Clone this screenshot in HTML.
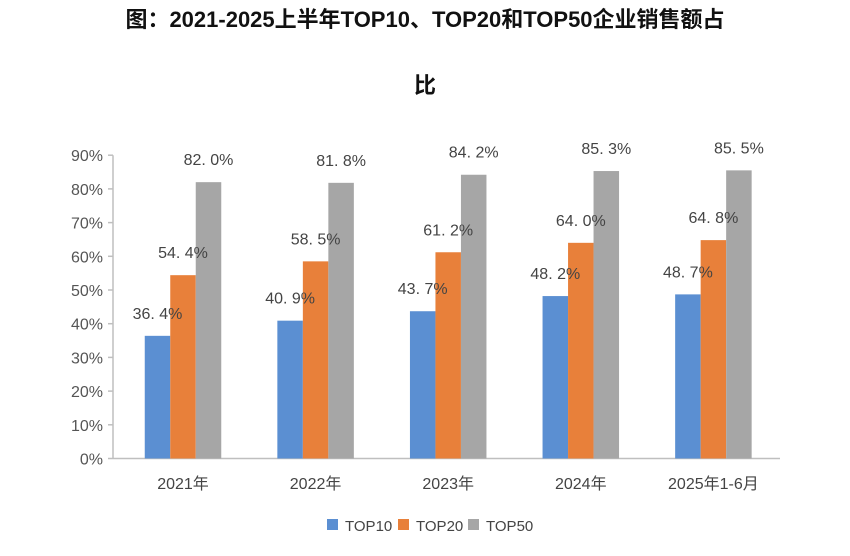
<!DOCTYPE html>
<html><head><meta charset="utf-8">
<style>
body{margin:0;background:#fff;width:850px;height:556px;overflow:hidden;font-family:"Liberation Sans","Noto Sans CJK SC",sans-serif}
svg{position:absolute;left:0;top:0}
</style></head>
<body>
<svg id="chart" width="850" height="556">
<text x="425" y="27" text-anchor="middle" font-size="22" font-weight="bold" fill="#111">图：2021-2025上半年TOP10、TOP20和TOP50企业销售额占</text>
<text x="425" y="93" text-anchor="middle" font-size="22" font-weight="bold" fill="#111">比</text>
<g id="plot"></g>
<g id="labels"></g>
</svg>
<script>
const categories=["2021年","2022年","2023年","2024年","2025年1-6月"];
const top10=[36.4,40.9,43.7,48.2,48.7];
const top20=[54.4,58.5,61.2,64.0,64.8];
const top50=[82.0,81.8,84.2,85.3,85.5];
const yTicks=[0,10,20,30,40,50,60,70,80,90];
const seriesNames=["TOP10","TOP20","TOP50"];
const colors=["#5b8fd2","#e8803a","#a6a6a6"];
const NS="http://www.w3.org/2000/svg";
const g=document.getElementById('plot');
const gl=document.getElementById('labels');
function mk(t,a,p){const e=document.createElementNS(NS,t);for(const k in a)e.setAttribute(k,a[k]);(p||g).appendChild(e);return e;}
const y0=458.5,pxPer=3.37;
function y(v){return y0-v*pxPer;}
const x0=113,step=132.6;
function xc(i){return x0+70+i*step;}
const bw=25.5;
let ax=mk('line',{x1:x0,y1:y(90),x2:x0,y2:y0,stroke:'#bfbfbf','stroke-width':1.5});


let xa=mk('line',{x1:x0,y1:y0,x2:780,y2:y0,stroke:'#bfbfbf','stroke-width':1.5});


yTicks.forEach(v=>{
  let t=mk('line',{x1:x0-5,y1:y(v),x2:x0,y2:y(v),stroke:'#bfbfbf','stroke-width':1.5});
  
  
  let l=mk('text',{x:x0-10,y:y(v)+6,'text-anchor':'end','font-size':16,fill:'#555'});
  l.textContent=v+'%';
  
  
});
const all=[top10,top20,top50];
categories.forEach((c,i)=>{
  all.forEach((s,j)=>{
    const bx=xc(i)-1.5*bw+j*bw;
    let r=mk('rect',{x:bx,y:y(s[i]),width:bw,height:y0-y(s[i]),fill:colors[j]});
    
    
    let t=mk('text',{x:bx+bw/2,y:y(s[i])-17,'text-anchor':'middle','font-size':16,fill:'#444'},gl);
    t.textContent=s[i].toFixed(1).replace('.','. ')+'%';
    
    
  });
  let l=mk('text',{x:xc(i),y:489,'text-anchor':'middle','font-size':16,fill:'#444'});
  l.textContent=c;
  
  
});
const lx=[327,398,468];
seriesNames.forEach((n,j)=>{
  let s=mk('rect',{x:lx[j],y:519,width:11,height:11,fill:colors[j]});
  
  
  let t=mk('text',{x:lx[j]+18,y:531,'font-size':15,fill:'#444'});
  t.textContent=n;
  
  
});
</script>
</body></html>
